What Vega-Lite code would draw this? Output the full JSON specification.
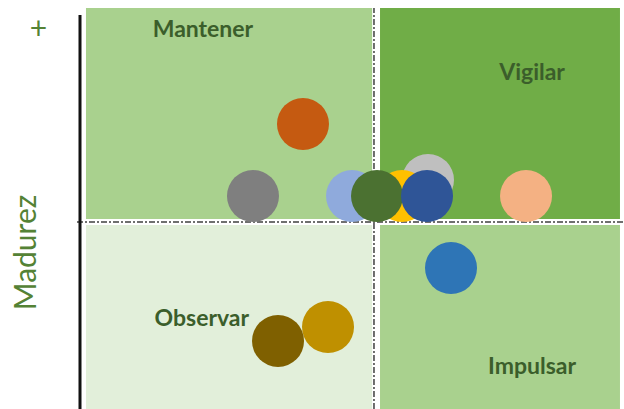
{
  "$schema": "https://vega.github.io/schema/vega-lite/v6.json",
  "autosize": "none",
  "width": 544,
  "height": 409,
  "padding": {"left": 80, "top": 0, "right": 0, "bottom": 0},
  "background": "white",
  "config": {"view": {"stroke": null}},
  "datasets": {
    "cuadrantes": [
      {"cuadrante": "Mantener", "x": 1.1, "x2": 53.7, "y": 46.45, "y2": 98.04, "lx": 22.6, "ly": 92.7},
      {"cuadrante": "Vigilar", "x": 55.15, "x2": 99.26, "y": 46.45, "y2": 98.04, "lx": 83.1, "ly": 82.2},
      {"cuadrante": "Observar", "x": 1.1, "x2": 53.7, "y": 0, "y2": 44.99, "lx": 22.4, "ly": 22.0},
      {"cuadrante": "Impulsar", "x": 55.15, "x2": 99.26, "y": 0, "y2": 44.99, "lx": 83.1, "ly": 10.3}
    ],
    "puntos": [
      {"id": "p1", "x": 31.8, "y": 52.08},
      {"id": "p2", "x": 40.99, "y": 69.68},
      {"id": "p3", "x": 63.97, "y": 55.99},
      {"id": "p4", "x": 50.0, "y": 52.08},
      {"id": "p5", "x": 59.19, "y": 52.08},
      {"id": "p6", "x": 54.6, "y": 52.08},
      {"id": "p7", "x": 63.79, "y": 52.08},
      {"id": "p8", "x": 81.99, "y": 52.08},
      {"id": "p9", "x": 68.2, "y": 34.47},
      {"id": "p10", "x": 45.59, "y": 20.05},
      {"id": "p11", "x": 36.4, "y": 16.63}
    ]
  },
  "layer": [
    {
      "data": {"name": "cuadrantes"},
      "mark": {"type": "rect", "strokeWidth": 0},
      "encoding": {
        "x": {"field": "x", "type": "quantitative", "scale": {"domain": [0, 100]}, "axis": null},
        "x2": {"field": "x2"},
        "y": {"field": "y", "type": "quantitative", "scale": {"domain": [0, 100]},
          "axis": {"domain": false, "grid": false, "ticks": false, "tickSize": 0, "values": [92.9], "labelExpr": "'+'", "labelFont": "Lato", "labelFontSize": 30, "labelColor": "#548235", "labelAlign": "center", "labelBaseline": "middle", "labelPadding": 42,
            "title": "Madurez", "titleFont": "Lato", "titleFontSize": 30, "titleFontWeight": "normal", "titleColor": "#548235", "titleX": -54, "titleY": 252, "titleAlign": "center", "titleBaseline": "middle", "titleAngle": -90}},
        "y2": {"field": "y2"},
        "fill": {"field": "cuadrante", "type": "nominal", "legend": null,
          "scale": {"domain": ["Mantener", "Vigilar", "Observar", "Impulsar"], "range": ["#A9D18E", "#70AD47", "#E2EFDA", "#A9D18E"]}}
      }
    },
    {
      "data": {"values": [{"x": 54.04, "y": 0, "y2": 98.04}]},
      "mark": {"type": "rule", "color": "#404040", "strokeWidth": 1.5, "strokeDash": [6, 2, 2, 2]},
      "encoding": {
        "x": {"field": "x", "type": "quantitative"},
        "y": {"field": "y", "type": "quantitative"},
        "y2": {"field": "y2"}
      }
    },
    {
      "data": {"values": [{"y": 45.72, "x": -0.55, "x2": 100}]},
      "mark": {"type": "rule", "color": "#404040", "strokeWidth": 1.5, "strokeDash": [6, 2, 2, 2]},
      "encoding": {
        "y": {"field": "y", "type": "quantitative"},
        "x": {"field": "x", "type": "quantitative"},
        "x2": {"field": "x2"}
      }
    },
    {
      "data": {"values": [{"x": 0, "y": 0, "y2": 96.33}]},
      "mark": {"type": "rule", "color": "#111111", "strokeWidth": 3},
      "encoding": {
        "x": {"field": "x", "type": "quantitative"},
        "y": {"field": "y", "type": "quantitative"},
        "y2": {"field": "y2"}
      }
    },
    {
      "data": {"name": "puntos"},
      "mark": {"type": "point", "filled": true, "opacity": 1, "size": 2704, "shape": "circle", "strokeWidth": 0},
      "encoding": {
        "x": {"field": "x", "type": "quantitative"},
        "y": {"field": "y", "type": "quantitative"},
        "color": {"field": "id", "type": "nominal", "legend": null,
          "scale": {"domain": ["p1", "p2", "p3", "p4", "p5", "p6", "p7", "p8", "p9", "p10", "p11"],
            "range": ["#7F7F7F", "#C55A11", "#BFBFBF", "#8FAADC", "#FFC000", "#4B7131", "#2F5597", "#F4B183", "#2E75B6", "#BF9000", "#7F6000"]}}
      }
    },
    {
      "data": {"name": "cuadrantes"},
      "mark": {"type": "text", "font": "Lato", "fontSize": 23, "fontWeight": "bold", "color": "#3B5E2B", "align": "center", "baseline": "middle"},
      "encoding": {
        "x": {"field": "lx", "type": "quantitative"},
        "y": {"field": "ly", "type": "quantitative"},
        "text": {"field": "cuadrante", "type": "nominal"}
      }
    }
  ],
  "resolve": {"scale": {"color": "independent", "fill": "independent"}}
}
